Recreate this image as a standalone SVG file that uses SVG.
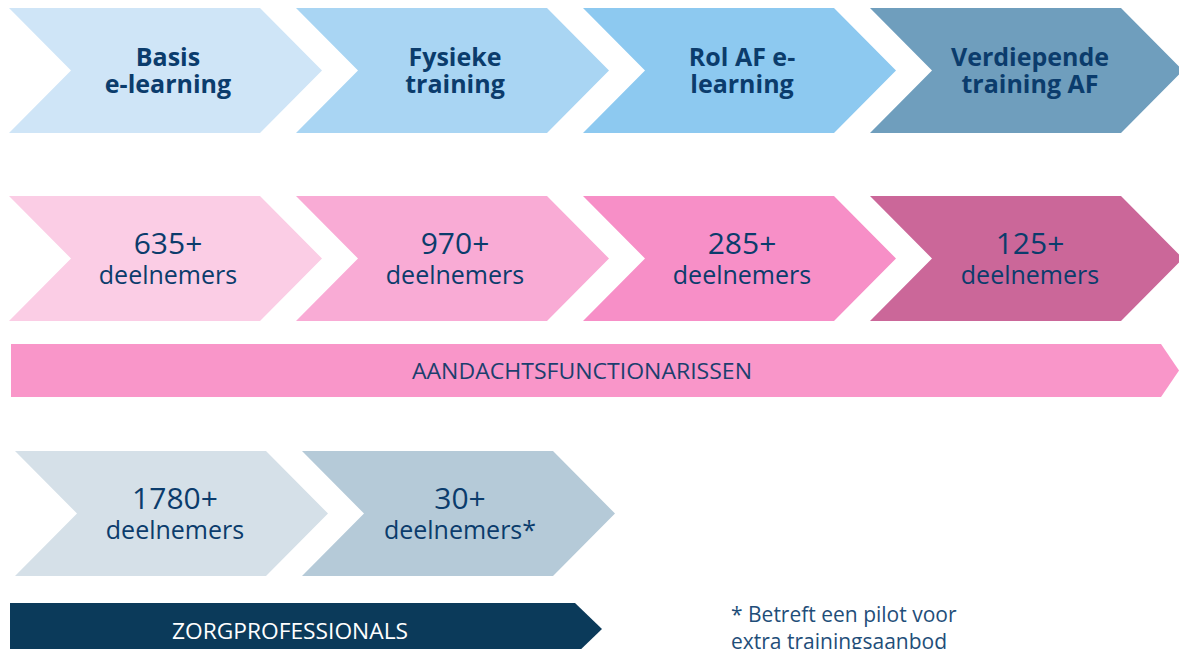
<svg xmlns="http://www.w3.org/2000/svg" width="1179" height="649" viewBox="0 0 1179 649">
<defs>
<style>
.t{font-family:"Open Sans","Liberation Sans",sans-serif;fill:#0b3c6c;text-anchor:middle}
.b{font-weight:700;font-size:25px}
.n{font-size:30px}
.d{font-size:25px}
.ban{font-family:"Open Sans","Liberation Sans",sans-serif;font-size:21px;text-anchor:middle}
.fn{font-family:"Open Sans","Liberation Sans",sans-serif;font-size:21px;fill:#1f4e79}
</style>
<path id="chev" d="M0,0 H251 L313,62.5 L251,125 H0 L62,62.5 Z"/>
</defs>
<rect width="1179" height="649" fill="#ffffff"/>
<g id="connectors"></g>

<g id="basis"><use href="#chev" x="9" y="8" fill="#cfe5f7"/><text class="t b" x="168" y="66">Basis</text><text class="t b" x="168" y="93">e-learning</text></g>
<g id="fysiek"><use href="#chev" x="296" y="8" fill="#a9d5f3"/><text class="t b" x="455" y="66">Fysieke</text><text class="t b" x="455" y="93">training</text></g>
<g id="rolaf"><use href="#chev" x="583" y="8" fill="#8dc9f0"/><text class="t b" x="742" y="66">Rol AF e-</text><text class="t b" x="742" y="93">learning</text></g>
<g id="verdiepend"><use href="#chev" x="870" y="8" fill="#6f9ebd"/><text class="t b" x="1030" y="66">Verdiepende</text><text class="t b" x="1030" y="93">training AF</text></g>

<g id="n635"><use href="#chev" x="9" y="196" fill="#fbcde5"/><text class="t n" x="168" y="254">635+</text><text class="t d" x="168" y="284">deelnemers</text></g>
<g id="n970"><use href="#chev" x="296" y="196" fill="#f9abd5"/><text class="t n" x="455" y="254">970+</text><text class="t d" x="455" y="284">deelnemers</text></g>
<g id="n285"><use href="#chev" x="583" y="196" fill="#f78fc7"/><text class="t n" x="742" y="254">285+</text><text class="t d" x="742" y="284">deelnemers</text></g>
<g id="n125"><use href="#chev" x="870" y="196" fill="#cb6799"/><text class="t n" x="1030" y="254">125+</text><text class="t d" x="1030" y="284">deelnemers</text></g>

<g id="af-banner"><path d="M11,344 H1161 L1179,370.5 L1161,397 H11 Z" fill="#f996c9"/><text class="ban" x="582" y="379" fill="#1c3f6e" textLength="340" lengthAdjust="spacingAndGlyphs">AANDACHTSFUNCTIONARISSEN</text></g>

<g id="n1780"><use href="#chev" x="15" y="451" fill="#d5e0e8"/><text class="t n" x="175" y="509">1780+</text><text class="t d" x="175" y="539">deelnemers</text></g>
<g id="n30"><use href="#chev" x="302" y="451" fill="#b5cad8"/><text class="t n" x="460" y="509">30+</text><text class="t d" x="460" y="539">deelnemers*</text></g>

<g id="zorg-banner"><path d="M10,603 H575 L602,629 L575,655 H10 Z" fill="#0b3a5a"/><text class="ban" x="290" y="639" fill="#ffffff" textLength="236" lengthAdjust="spacingAndGlyphs">ZORGPROFESSIONALS</text></g>

<g id="footnote"><text class="fn" x="731" y="622">* Betreft een pilot voor</text><text class="fn" x="731" y="649">extra trainingsaanbod</text></g>
</svg>
